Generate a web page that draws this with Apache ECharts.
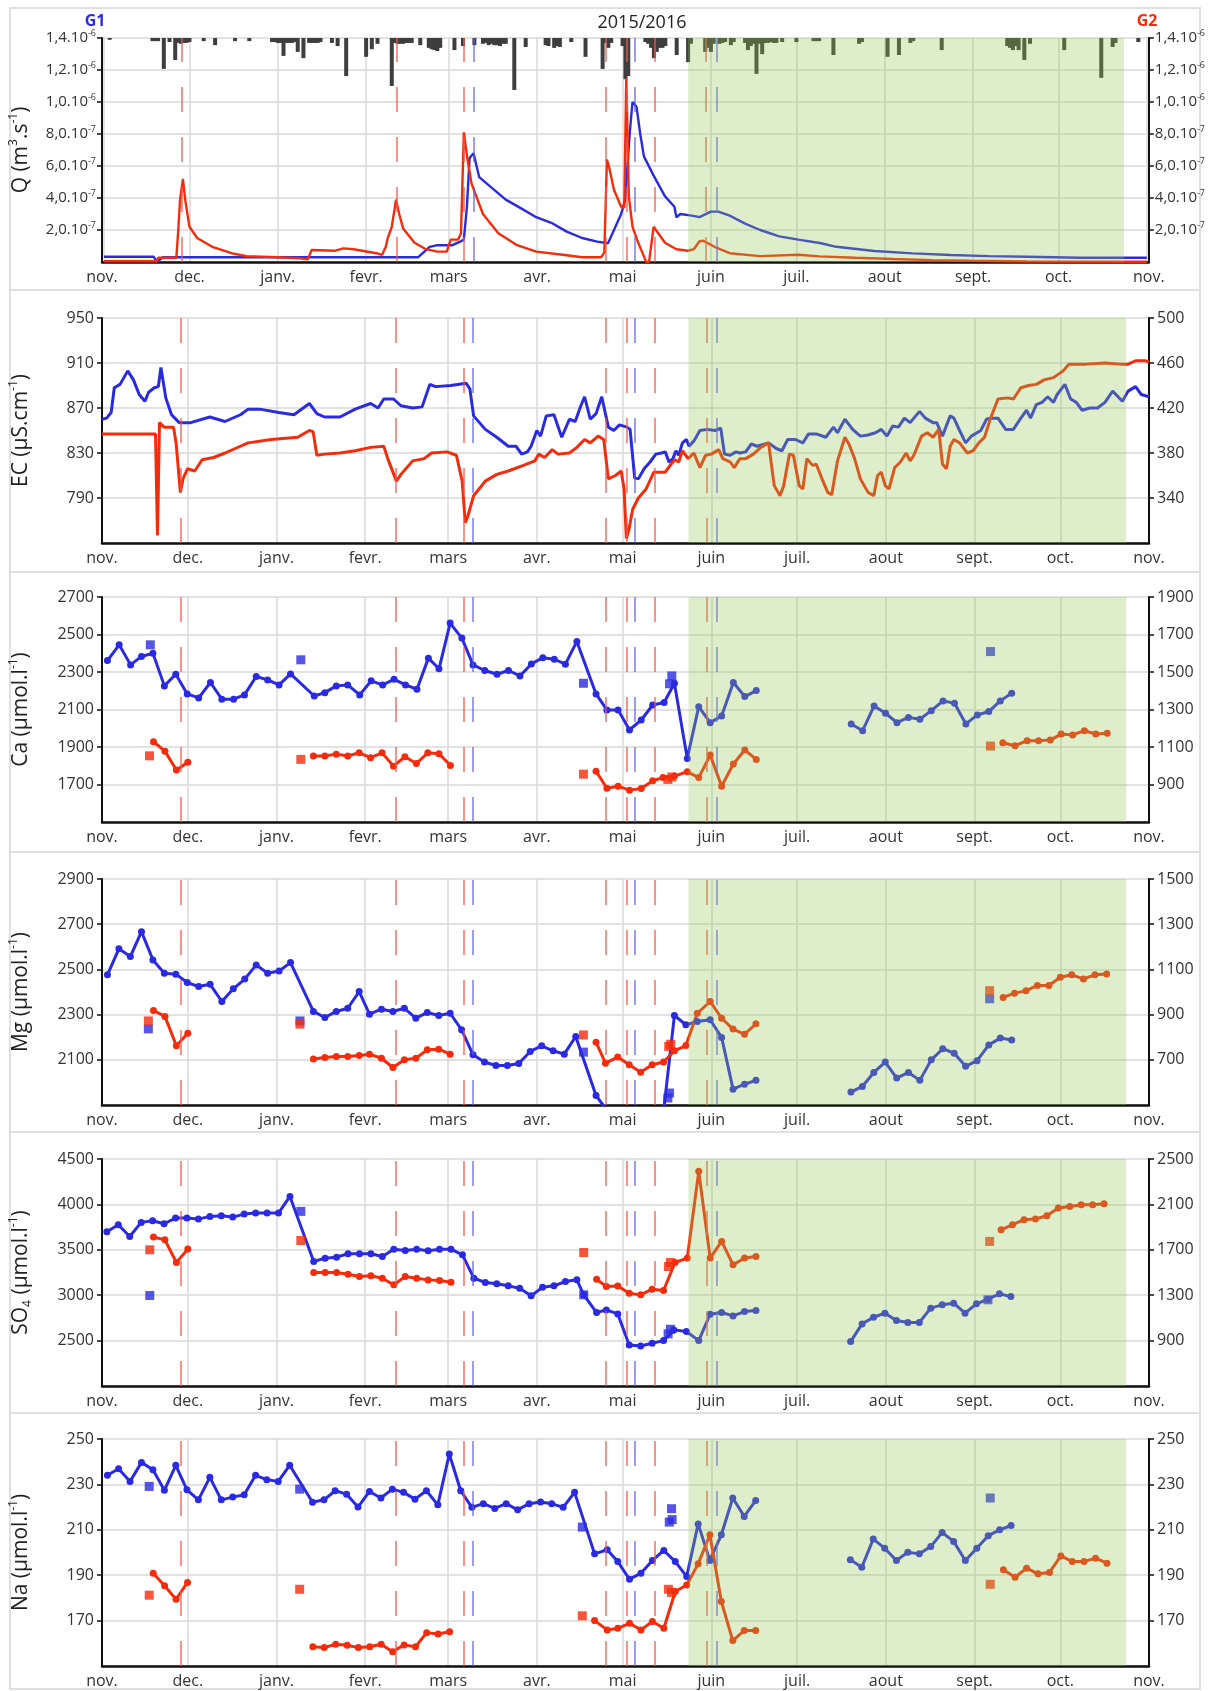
<!DOCTYPE html>
<html>
<head>
<meta charset="utf-8">
<script src="https://cdn.jsdelivr.net/npm/echarts@6/dist/echarts.min.js"></script>
<style>
  html, body { margin: 0; padding: 0; background: #fff; }
  #chart { width: 1208px; height: 1691px; }
</style>
</head>
<body>
<div id="chart"></div>
<script>
// days counted from 1 Nov 2015
const START = new Date(2015, 10, 1).getTime();
const DAY = 86400000;
const t = d => START + d * DAY;

const MONTHS = ['janv.', 'fevr.', 'mars', 'avr.', 'mai', 'juin', 'juil.', 'aout', 'sept.', 'oct.', 'nov.', 'dec.'];

// event lines and green period (days)
const redEvents = [27.4, 102.7, 126.3, 176, 183.3, 193.2, 211.3];
const blueEvents = [129.7, 186.2, 215];
const greenPeriod = [205, 358];

// rain, hanging from the top of the Q panel
const rain = [[2,0.4],[17,0.7],[18,0.7],[19,0.7],[21,6.9],[23,0.9],[25,4.9],[26,1.1],[27,1.3],[28,1.1],[29,1.1],[30,0.9],[35,0.7],[39,1.6],[46,0.7],[51,0.7],[59,0.9],[60,0.9],[61,1.1],[62,1.1],[63,4],[64,1.1],[65,1.1],[66,1.1],[67,0.9],[68,3.1],[70,4.5],[72,1.1],[73,1.1],[74,1.1],[75,1.1],[76,0.9],[80,1.1],[82,1.8],[85,8.5],[92,4.2],[94,2.5],[96,1.3],[101,10.7],[102,1.1],[103,1.3],[104,1.3],[105,1.3],[106,1.1],[107,1.1],[108,1.1],[111,1.6],[114,2.2],[115,2.5],[116,2.7],[117,2.9],[118,2.2],[123,2.7],[126,1.8],[130,1.6],[133,1.3],[134,1.1],[135,1.6],[136,1.3],[137,1.6],[138,1.6],[139,1.8],[140,1.3],[141,1.3],[144,11.6],[148,2],[155,1.6],[156,1.8],[158,2.2],[159,1.8],[160,2],[164,0.9],[169,4.2],[175,6.9],[176,1.1],[177,2.2],[178,1.1],[182,1.8],[183,9.2],[184,8.5],[190,0.9],[191,1.3],[192,2.2],[193,4.5],[194,3.1],[195,2.2],[196,2.2],[197,1.8],[201,3.8],[205,5.4],[206,1.3],[211,3.1],[212,2.2],[213,3.1],[214,1.3],[216,1.3],[217,1.1],[218,0.9],[220,1.6],[221,0.9],[225,1.1],[226,2.7],[227,1.8],[228,1.3],[229,8],[230,1.3],[231,3.6],[232,1.1],[233,1.1],[234,0.9],[235,1.1],[236,1.1],[238,0.9],[243,0.9],[249,0.7],[250,0.7],[251,0.7],[256,3.8],[265,1.3],[266,0.9],[275,4.2],[279,3.8],[283,1.1],[284,0.7],[294,2.7],[317,1.8],[318,2.2],[319,2.7],[320,1.8],[321,2.7],[323,4.9],[325,1.3],[337,2.7],[350,8.9],[354,2],[355,1.1],[363,0.9]];

// discharge, in 1e-7 m3/s
const qBlue = [[0,0.33],[17.4,0.33],[18.7,0.02],[20.7,0.3],[110.3,0.3],[114.3,0.95],[117,1.05],[122.3,1.05],[125,1.27],[126.3,1.4],[127.4,3.5],[128.3,6.5],[129.7,6.8],[131.7,5.3],[135.7,4.7],[141,3.9],[146.4,3.35],[151.7,2.8],[157,2.45],[162.4,1.9],[167.8,1.5],[173.1,1.27],[176.9,1.17],[179.5,2.2],[181.5,3.0],[182.9,3.9],[184.6,8.25],[185.5,10.0],[186.9,9.7],[188.2,8.0],[189.5,6.6],[192.9,5.4],[196.9,4.1],[200.2,3.45],[200.9,2.8],[202.3,3.0],[206.3,2.9],[209,2.8],[213,3.15],[215.6,3.15],[219.6,2.9],[225,2.4],[230.3,2.0],[237,1.6],[243.7,1.4],[251.7,1.17],[257,0.95],[270.4,0.69],[283.8,0.54],[297.2,0.44],[310.5,0.37],[323.9,0.33],[342.6,0.27],[366,0.27]];
const qRed = [[0,0.05],[18.7,0.05],[19,0.27],[25.4,0.27],[26,1.8],[26.7,3.9],[27.7,5.2],[28.5,3.9],[30,2.2],[32.7,1.5],[38,0.95],[44.8,0.55],[50,0.37],[60.8,0.3],[68.8,0.23],[71.5,0.17],[72.9,0.75],[80.9,0.7],[84,0.85],[87.6,0.8],[95.6,0.55],[97.6,0.45],[98.9,0.95],[99.6,1.5],[101,2.2],[102.5,3.9],[103.6,3.0],[105,2.1],[109,1.2],[113,0.8],[117,0.65],[120.3,0.65],[121.7,1.4],[124.3,1.4],[125.3,1.8],[126.3,8.1],[127.5,6.5],[129,4.9],[133,3.0],[138.4,1.8],[145,1.05],[151.7,0.65],[161,0.45],[167.8,0.3],[174.5,0.3],[175.6,0.6],[176.5,6.4],[177.2,6.0],[179,4.5],[181.5,3.45],[182.6,3.4],[183.3,11.5],[184.2,4.1],[185.5,2.2],[187.5,1.2],[189.5,0.35],[190.2,0.02],[191.3,0.02],[192.9,2.2],[196.9,1.2],[200.9,0.8],[204.9,0.7],[207,0.8],[209,1.3],[210.3,1.33],[214.3,0.95],[219.6,0.55],[230.3,0.37],[243.7,0.45],[251,0.35],[263.7,0.27],[277,0.19],[290.5,0.12],[303.9,0.08],[323.9,0.03],[366,0.02]];

// electrical conductivity
const ecBlue = [[0,860],[1.6,861],[3.2,866],[4.3,888],[6.3,891],[9,903],[11,895],[13,882],[15,876],[16.3,884],[18.3,888],[19.7,889],[20.6,906],[22.3,879],[24.3,864],[27,857],[31,857],[37.7,862],[43,858],[48.4,864],[51.1,869],[55.1,869],[61.8,866],[67.1,864],[72.5,874],[75.1,865],[77.8,862],[83.2,862],[88.5,869],[93.9,874],[96.5,870],[98.5,878],[101.9,878],[104.5,872],[108.6,870],[111.9,871],[114.6,891],[116.6,889],[121.9,890],[127.3,892],[128.6,887],[129.9,863],[134,851],[138,844],[142,836],[144.7,836],[146.7,829],[148.7,831],[150,836],[152,850],[153.3,845],[155.3,863],[158,864],[160.7,844],[163.4,860],[165.4,858],[167.4,872],[168.7,880],[170.7,860],[172.7,865],[174.7,880],[177,853],[178.9,850],[180.9,855],[183.5,853],[184.6,851],[186.2,808],[187.5,807],[189.5,816],[191.6,822],[193.6,829],[195.6,830],[196.9,831],[198.2,822],[199.6,825],[200.6,832],[201.6,828],[202.9,839],[204.3,842],[205.2,836],[207,841],[209,850],[211.6,851],[214.3,850],[216.3,852],[217.6,829],[219.6,828],[221.6,831],[223,830],[225,831],[227,838],[229,836],[233,839],[235.7,834],[237.7,832],[239.7,842],[242.4,842],[245,839],[247,847],[249.7,847],[253,844],[255.7,853],[257.1,848],[259.7,860],[262.4,851],[265.1,845],[267.8,846],[270.4,848],[272.4,851],[274.4,845],[276.4,854],[278.4,853],[280.5,861],[282.5,857],[285.8,867],[287.8,861],[290.5,857],[291.8,857],[293.8,845],[296.5,863],[297.8,861],[299.8,850],[301.9,839],[303.9,845],[307.2,850],[309.2,860],[310.5,861],[313.2,861],[315.9,851],[318.6,851],[321.2,861],[323.2,868],[324.6,861],[326.6,873],[328.6,875],[330.6,880],[332.6,875],[333.9,882],[336.6,891],[338.6,878],[340.6,875],[342.6,868],[345.3,870],[348,870],[350.6,875],[353.3,885],[356.7,876],[358.7,885],[361.3,889],[363.3,882],[366,880]];
const ecRed = [[0,397],[18.7,397],[19.4,307],[20.1,407],[21.7,403],[25,403],[25.9,389],[27.4,345],[28.3,357],[29.9,366],[32.4,364],[35,374],[39,376],[43,380],[48.4,386],[51.1,389],[59.1,392],[68.4,394],[72.5,400],[73.8,399],[75.1,378],[77.8,379],[83.2,380],[88.5,382],[93.9,385],[98.5,386],[99.9,375],[102.9,355],[104.5,361],[108.6,373],[112.6,375],[115.2,380],[120.6,381],[123.9,378],[125.9,355],[127,318],[127.9,324],[129.9,342],[134,355],[138,361],[142,364],[147.3,369],[151.3,373],[152.7,379],[154.7,376],[157.4,383],[159.4,379],[163.4,380],[166,385],[168.7,392],[170.7,389],[173.4,395],[175.4,392],[177,357],[179.5,360],[181.5,364],[182.5,348],[183.3,304],[184.2,312],[185.5,330],[187.5,340],[190.2,348],[192.9,363],[194.2,363],[196.9,363],[198.9,370],[200.2,374],[201.6,372],[202.9,382],[204.9,375],[206.9,380],[209,367],[211,378],[213,379],[215.6,383],[217,375],[219.6,372],[221,367],[223,375],[225,375],[227.7,379],[230.3,385],[233,389],[235,351],[237,342],[238.3,351],[240.3,379],[241.7,378],[243.7,351],[245,348],[246.4,375],[248.4,369],[249.7,370],[251.7,357],[253.7,345],[255.1,343],[257.1,373],[259.7,394],[261.1,388],[263.1,375],[265.1,357],[267.8,345],[269.8,342],[271.1,360],[272.4,363],[273.8,351],[275.1,348],[277.1,367],[279.1,372],[281.1,380],[282.5,373],[283.8,378],[286.5,395],[288.5,398],[290.5,394],[292.5,401],[293.8,370],[295.2,366],[296.5,386],[297.8,392],[299.8,389],[302.5,380],[304.5,382],[306.5,389],[308.5,394],[310.5,410],[313.2,428],[316.6,429],[318.6,428],[321.2,438],[323.9,440],[326.6,441],[329.3,445],[332.6,447],[336,453],[338,459],[344,459],[350.6,460],[356,459],[358.7,459],[361.3,462],[364.7,462],[366,461]];

// chemistry: null = gap in sampling
const caBlue = [[1.9,2361],[6,2445],[10,2338],[13.8,2383],[17.8,2400],[21.8,2226],[25.8,2288],[29.8,2183],[33.8,2162],[37.9,2244],[41.9,2155],[46,2155],[49.8,2178],[53.9,2276],[57.9,2258],[61.9,2231],[65.9,2290],[74.2,2172],[77.9,2190],[81.9,2226],[85.9,2231],[90.1,2178],[94.1,2253],[98.1,2231],[102.1,2261],[106.1,2231],[110.1,2208],[114.1,2374],[117.8,2317],[121.7,2561],[125.8,2481],[129.7,2338],[133.8,2308],[138.1,2288],[142.1,2308],[146.1,2279],[150.1,2343],[154.1,2376],[158.1,2368],[162,2342],[166,2463],[172.7,2183],[176.5,2098],[180.4,2098],[184.4,1991],[188.5,2044],[192.5,2124],[196.5,2137],[200.1,2240],[204.6,1839],[208.6,2115],[212.6,2030],[216.6,2065],[220.7,2244],[224.7,2169],[228.7,2201],null,[261.9,2023],[265.9,1987],[269.9,2119],[273.9,2080],[277.9,2030],[281.9,2058],[285.9,2048],[289.9,2094],[294,2146],[298,2133],[302,2023],[306,2071],[310,2089],[314,2146],[318,2187]];
const caBlueSq = [[16.9,2445],[69.5,2365],[168.3,2240],[198.4,2237],[199.2,2279],[310.6,2409]];
const caRed = [[18,1128],[22,1078],[26,977],[30,1019],null,[73.9,1052],[77.9,1052],[81.9,1062],[85.9,1052],[89.9,1069],[93.9,1043],[97.9,1069],[101.9,998],[105.9,1048],[109.9,1012],[113.9,1069],[117.8,1064],[121.8,1002],null,[172.7,971],[176.5,880],[180.4,891],[184.4,870],[188.5,879],[192.5,920],[196.1,937],[200.1,945],[204.6,968],[208.6,937],[212.6,1057],[216.6,891],[220.7,1009],[224.7,1084],[228.7,1034],null,[314.9,1123],[319.2,1107],[323.4,1134],[327.4,1134],[331.5,1137],[335.3,1169],[339.3,1164],[343.4,1187],[347.4,1169],[351.4,1173]];
const caRedSq = [[16.6,1053],[69.5,1034],[168.3,955],[197.8,927],[199.2,940],[310.6,1105]];

const mgBlue = [[1.9,2476],[5.9,2591],[9.9,2557],[13.8,2667],[17.8,2542],[21.8,2483],[25.8,2479],[29.8,2442],[33.8,2424],[37.8,2434],[41.9,2358],[45.9,2414],[49.9,2457],[53.9,2520],[57.9,2483],[61.9,2493],[65.9,2530],[73.9,2314],[77.9,2287],[81.9,2314],[85.9,2328],[89.9,2402],[93.5,2302],[97.7,2324],[101.7,2314],[105.7,2328],[109.7,2284],[113.7,2309],[117.7,2296],[121.7,2306],[125.7,2233],[129.7,2122],[133.7,2090],[137.7,2075],[141.7,2075],[145.7,2084],[149.7,2137],[153.7,2162],[157.7,2140],[161.6,2125],[165.6,2203],[172.7,1942],[176.3,1880],[180.3,1850],[184.3,1820],[188.3,1830],[192.3,1850],[196.3,1870],[200.1,2296],[204.1,2255],[208.1,2269],[212.6,2277],[216.6,2199],[220.6,1970],[224.6,1992],[228.6,2009],null,[261.8,1957],[265.8,1982],[269.8,2044],[273.8,2090],[277.8,2019],[281.9,2044],[285.9,2009],[289.9,2100],[293.9,2149],[297.9,2129],[301.9,2071],[305.9,2096],[310,2166],[314,2196],[318,2188]];
const mgBlueSq = [[16.2,2237],[69.2,2272],[168.3,2134],[197.8,1931],[198.4,1953],[310.3,2370]];
const mgRed = [[18,918],[22,892],[26,762],[30,818],null,[73.9,704],[77.9,710],[81.9,715],[85.9,715],[89.9,719],[93.5,725],[97.7,707],[101.7,666],[105.7,700],[109.7,707],[113.7,744],[117.7,747],[121.7,725],null,[172.7,778],[176,685],[180.3,712],[184.3,678],[188.3,645],[192.3,678],[196.3,690],[200.1,740],[204.1,763],[208.1,906],[212.6,958],[216.6,884],[220.6,836],[224.6,813],[228.6,859],null,[315,976],[319,995],[323,1005],[327,1029],[331,1029],[335,1065],[339,1076],[343.1,1058],[347.1,1076],[351.2,1080]];
const mgRedSq = [[16.2,872],[69.2,858],[168.3,810],[198.1,759],[198.8,769],[310.3,1006]];

const so4Blue = [[1.7,3699],[5.7,3776],[9.7,3647],[13.7,3802],[17.7,3820],[21.7,3787],[25.7,3849],[29.7,3849],[33.7,3838],[37.7,3868],[41.7,3875],[45.7,3860],[49.7,3893],[53.7,3904],[57.7,3904],[61.7,3904],[65.7,4088],[74,3371],[78,3408],[82,3419],[86,3456],[90,3456],[94,3456],[98,3427],[102,3507],[106,3493],[110,3507],[114,3489],[118,3507],[122,3507],[126,3445],[130,3188],[134,3140],[138,3125],[142,3103],[146,3077],[150,2993],[154,3088],[158,3103],[162,3151],[166,3169],[168.4,3004],[172.9,2809],[176.3,2838],[180.3,2794],[184.3,2452],[188.3,2441],[192.3,2471],[196.3,2500],[199.9,2618],[204.3,2600],[208.6,2500],[212.6,2791],[216.6,2809],[220.6,2772],[224.6,2820],[228.6,2831],null,[261.7,2489],[265.7,2684],[269.7,2757],[273.7,2802],[277.7,2721],[281.7,2699],[285.7,2699],[289.7,2857],[293.7,2894],[297.7,2912],[301.7,2802],[305.7,2905],[309.7,2956],[313.7,3015],[317.7,2985]];
const so4BlueSq = [[16.7,2997],[69.5,3923],[168.4,3004],[197.9,2574],[198.7,2625],[309.7,2949]];
const so4Red = [[18,1812],[22,1788],[26,1588],[30,1706],null,[74,1500],[78,1500],[82,1500],[86,1485],[90,1465],[94,1471],[98,1450],[102,1391],[106,1465],[110,1450],[114,1435],[118,1429],[122,1415],null,[172.9,1441],[176.3,1377],[180.3,1382],[184.3,1318],[188.3,1303],[192.3,1353],[196.3,1341],[200.3,1588],[204.6,1627],[208.6,2391],[212.6,1627],[216.6,1774],[220.6,1568],[224.6,1627],[228.6,1641],null,[314.3,1876],[318.3,1921],[322.3,1965],[326.3,1971],[330.3,2000],[334.3,2068],[338.3,2082],[342.3,2097],[346.3,2097],[350.3,2106]];
const so4RedSq = [[16.7,1700],[69.5,1782],[168.4,1676],[198,1553],[198.7,1588],[310.3,1774]];

const naBlue = [[1.9,234],[5.8,236.9],[9.8,231.3],[13.8,239.7],[17.8,236.5],[21.8,227.4],[25.8,238.4],[29.7,227.6],[33.7,223.2],[37.7,233.1],[41.7,223.2],[45.7,224.4],[49.7,225.4],[53.7,234],[57.6,232.1],[61.6,231.3],[65.6,238.4],[73.6,222.1],[77.6,223.2],[81.5,227.2],[85.5,225.7],[89.5,220],[93.5,226.9],[97.5,224],[101.5,227.9],[105.4,226.5],[109.4,223.5],[113.4,227.2],[117.4,221],[121.4,243.4],[125.4,227.2],[129.3,219.9],[133.3,221.5],[137.3,219.4],[141.3,221.5],[145.3,218.8],[149.3,221.5],[153.3,222.2],[157.2,221.5],[161.2,219.9],[165.2,226.5],[172.2,199.4],[176.6,201.2],[180.3,196],[184.4,188.2],[188.4,190.9],[192.4,196.5],[196.4,200.9],[200.4,196],[204.4,189.4],[208.4,212.6],[212.5,196.5],[216.5,207.8],[220.5,224],[224.5,215.9],[228.5,222.9],null,[261.6,196.8],[265.6,193.5],[269.6,205.9],[273.6,201.9],[277.7,196.5],[281.7,200.1],[285.7,199.4],[289.7,202.6],[293.7,208.8],[297.7,204.9],[301.8,196.5],[305.8,201.9],[309.8,207.4],[313.8,210],[317.8,211.9]];
const naBlueSq = [[16.5,229.1],[69.1,227.9],[167.9,211.2],[198.3,213.4],[199.1,219.3],[199.3,214.5],[310.5,224]];
const naRed = [[17.9,190.9],[21.9,185.3],[25.9,179.4],[29.9,186.8],null,[73.7,158.5],[77.7,158.1],[81.7,159.6],[85.7,159.1],[89.6,158.1],[93.6,158.5],[97.6,159.6],[101.6,156.3],[105.6,159.3],[109.6,158.5],[113.5,164.7],[117.5,164.1],[121.5,165.1],null,[172.2,170],[176.6,165.9],[180.3,166.6],[184.4,168.8],[188.4,165.9],[192.4,169.6],[196.4,166.6],[200.4,182.8],[204.4,185.7],[208.4,195],[212.5,207.8],[216.5,178.4],[220.5,161.2],[224.5,165.6],[228.5,165.6],null,[315.1,192.4],[319.2,189.1],[323.2,193.1],[327.2,190.6],[331.2,191.2],[335.2,198.5],[339.2,196],[343.3,196],[347.3,197.5],[351.3,195.3]];
const naRedSq = [[16.5,181.2],[69.1,183.8],[167.9,172.1],[198,183.8],[199.1,182.4],[310.5,186]];

const FONT = 'Open Sans';
const BLUE = '#2a2ae2';
const RED = '#f52c0c';
const INK = '#222';

function pts(arr) {
  const out = [];
  let last = 0;
  arr.forEach(p => {
    if (p) { out.push([t(p[0]), p[1]]); last = p[0]; }
    else out.push([t(last + 1), '-']);
  });
  return out;
}

function qLabel(v) {
  const n = Math.round(v);
  if (n >= 10) return '{m|' + (n / 10).toFixed(1).replace('.', ',') + '.10}{e|-6}';
  return '{m|' + n.toFixed(1).replace('.', ',') + '.10}{e|-7}';
}

const panels = [
  { top: 38, height: 224, name: '{n|Q (m}{s|3}{n|.s}{s|-1}{n|)}',
    left: [0, 14, 2], right: [0, 14, 2], q: true, blue: qBlue, red: qRed },
  { top: 318, height: 225, name: '{n|EC (µS.cm}{s|-1}{n|)}',
    left: [750, 950, 40], right: [300, 500, 40], blue: ecBlue, red: ecRed, thick: true },
  { top: 597, height: 225, name: '{n|Ca (µmol.l}{s|-1}{n|)}',
    left: [1500, 2700, 200], right: [700, 1900, 200], blue: caBlue, red: caRed, blueSq: caBlueSq, redSq: caRedSq },
  { top: 879, height: 226, name: '{n|Mg (µmol.l}{s|-1}{n|)}',
    left: [1900, 2900, 200], right: [500, 1500, 200], blue: mgBlue, red: mgRed, blueSq: mgBlueSq, redSq: mgRedSq },
  { top: 1159, height: 227, name: '{n|SO}{b|4}{n| (µmol.l}{s|-1}{n|)}',
    left: [2000, 4500, 500], right: [500, 2500, 400], blue: so4Blue, red: so4Red, blueSq: so4BlueSq, redSq: so4RedSq },
  { top: 1439, height: 227, name: '{n|Na (µmol.l}{s|-1}{n|)}',
    left: [150, 250, 20], right: [150, 250, 20], blue: naBlue, red: naRed, blueSq: naBlueSq, redSq: naRedSq }
];

const grid = [], xAxis = [], yAxis = [], series = [];
const labelStyle = { fontFamily: FONT, fontSize: 16, color: '#333' };
const qRich = {
  m: { fontFamily: FONT, fontSize: 15, color: '#333', lineHeight: 18 },
  e: { fontFamily: FONT, fontSize: 9, color: '#333', verticalAlign: 'top', lineHeight: 18, padding: [0, 0, 8, 0] }
};

panels.forEach((p, i) => {
  grid.push({ left: 94, right: 59, top: p.top, height: p.height });
  xAxis.push({
    type: 'time', gridIndex: i, min: t(0), max: t(366),
    splitNumber: 12, minInterval: 28 * DAY, maxInterval: 31 * DAY,
    axisLine: { lineStyle: { color: '#111', width: 2.5 } },
    axisTick: { show: false },
    axisLabel: Object.assign({
      margin: 7, hideOverlap: false, showMinLabel: true, showMaxLabel: true,
      // tick may sit a few hours before the 1st of the month
      formatter: v => MONTHS[new Date(v + 5 * DAY).getMonth()]
    }, labelStyle),
    splitLine: { show: true, lineStyle: { color: '#d9d9d9', width: 1.5 } }
  });
  const li = yAxis.length;
  const mk = (ext, pos, withName) => ({
    type: 'value', gridIndex: i, position: pos,
    min: ext[0], max: ext[1], interval: ext[2],
    name: withName ? p.name : '', nameLocation: 'middle', nameGap: 68,
    nameTextStyle: {
      rich: {
        n: { fontFamily: FONT, fontSize: 21, color: INK, lineHeight: 26 },
        s: { fontFamily: FONT, fontSize: 12, color: INK, verticalAlign: 'top', lineHeight: 26, padding: [0, 0, 10, 0] },
        b: { fontFamily: FONT, fontSize: 12, color: INK, verticalAlign: 'bottom', lineHeight: 26, padding: [8, 0, 0, 0] }
      }
    },
    axisLine: { show: true, onZero: false, lineStyle: { color: '#111', width: 2 } },
    axisTick: { show: true, length: 5, lineStyle: { color: '#111', width: 1.5 } },
    axisLabel: p.q
      ? { showMinLabel: false, margin: 6, formatter: qLabel, rich: qRich }
      : Object.assign({ showMinLabel: false, margin: 8, formatter: v => String(v) }, labelStyle),
    splitLine: { show: pos === 'left', lineStyle: { color: '#d9d9d9', width: 1.5 } }
  });
  yAxis.push(mk(p.left, 'left', true));
  yAxis.push(mk(p.right, 'right', false));

  if (p.q) {
    yAxis.push({ type: 'value', gridIndex: i, show: false, inverse: true, min: 0, max: 50,
      splitLine: { show: false } });
    series.push({
      type: 'bar', xAxisIndex: i, yAxisIndex: li + 2, barWidth: 4, z: 2,
      itemStyle: { color: '#3e3e3e' }, data: rain.map(r => [t(r[0]), r[1]])
    });
  }

  // event lines
  series.push({
    type: 'line', xAxisIndex: i, yAxisIndex: li, data: [], silent: true,
    markLine: {
      symbol: ['none', 'none'], silent: true, label: { show: false }, animation: false,
      data: redEvents.map(d => ({ xAxis: t(d), lineStyle: { color: 'rgba(238,90,80,0.65)', width: 2, type: [25, 25] } }))
        .concat(blueEvents.map(d => ({ xAxis: t(d), lineStyle: { color: 'rgba(90,90,230,0.6)', width: 2, type: [25, 25] } })))
    }
  });

  const lw = p.q ? 2.4 : 3;
  const sym = !p.q && !p.thick;
  series.push({
    type: 'line', xAxisIndex: i, yAxisIndex: li, data: pts(p.blue), z: 3,
    showSymbol: sym, symbol: 'circle', symbolSize: 7, connectNulls: false,
    lineStyle: { color: BLUE, width: lw }, itemStyle: { color: BLUE }
  });
  series.push({
    type: 'line', xAxisIndex: i, yAxisIndex: li + 1, data: pts(p.red), z: 3,
    showSymbol: sym, symbol: 'circle', symbolSize: 7, connectNulls: false,
    lineStyle: { color: RED, width: lw }, itemStyle: { color: RED }
  });
  if (p.blueSq) {
    series.push({ type: 'scatter', xAxisIndex: i, yAxisIndex: li, symbol: 'rect', symbolSize: 9, z: 4,
      itemStyle: { color: BLUE }, data: pts(p.blueSq) });
    series.push({ type: 'scatter', xAxisIndex: i, yAxisIndex: li + 1, symbol: 'rect', symbolSize: 9, z: 4,
      itemStyle: { color: RED }, data: pts(p.redSq) });
  }

  // green period overlay
  series.push({
    type: 'line', xAxisIndex: i, yAxisIndex: li, data: [], silent: true, z: 10,
    markArea: {
      silent: true, z: 10, animation: false,
      itemStyle: { color: 'rgba(150,200,80,0.3)' },
      data: [[{ xAxis: t(greenPeriod[0]) }, { xAxis: t(greenPeriod[1]) }]]
    }
  });
});

// panel frames and header texts
const frames = [[8, 290], [290, 572], [572, 852], [852, 1132], [1132, 1413], [1413, 1689]];
const graphic = frames.map(f => ({
  type: 'rect', silent: true, z: -1,
  shape: { x: 10, y: f[0], width: 1190, height: f[1] - f[0] },
  style: { fill: 'none', stroke: '#e0e0e0', lineWidth: 2 }
}));
graphic.push(
  { type: 'text', x: 642, y: 23, style: { text: '2015/2016', font: '18px "Open Sans"', fill: '#222', textAlign: 'center', textVerticalAlign: 'middle' } },
  { type: 'text', x: 95, y: 21, style: { text: 'G1', font: 'bold 16px "Open Sans"', fill: '#2a2ae2', textAlign: 'center', textVerticalAlign: 'middle' } },
  { type: 'text', x: 1147, y: 21, style: { text: 'G2', font: 'bold 16px "Open Sans"', fill: '#f52c0c', textAlign: 'center', textVerticalAlign: 'middle' } }
);

const chart = echarts.init(document.getElementById('chart'));
chart.setOption({
  animation: false,
  backgroundColor: '#fff',
  grid, xAxis, yAxis, series, graphic
});
</script>
</body>
</html>
